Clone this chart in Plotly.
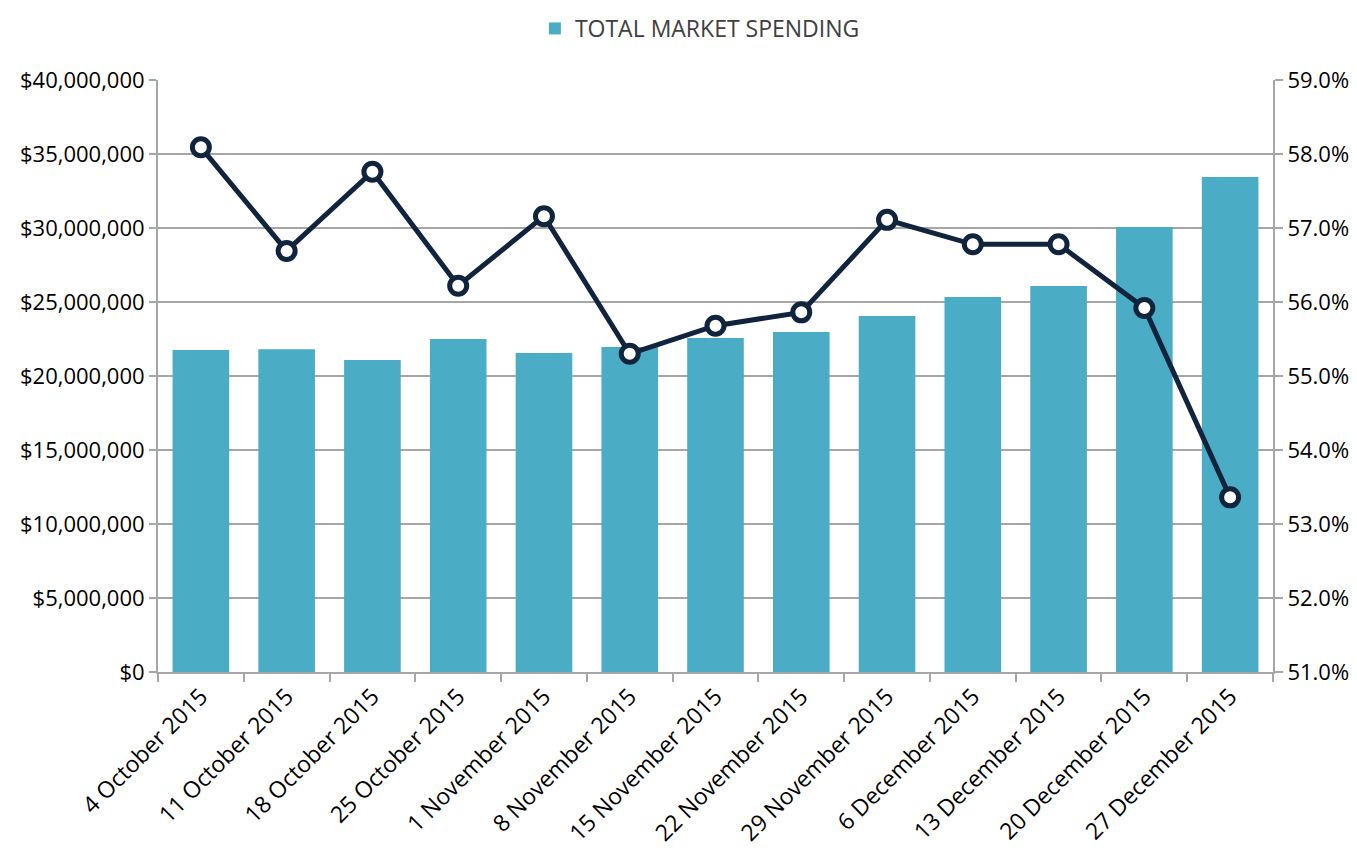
import plotly.graph_objects as go

weeks = ["4 October 2015", "11 October 2015", "18 October 2015", "25 October 2015",
         "1 November 2015", "8 November 2015", "15 November 2015", "22 November 2015",
         "29 November 2015", "6 December 2015", "13 December 2015", "20 December 2015",
         "27 December 2015"]
total_spending = [21760000, 21800000, 21080000, 22500000, 21550000, 21960000, 22570000,
                  22970000, 24050000, 25340000, 26080000, 30070000, 33450000]
share_pct = [0.5809, 0.5669, 0.5776, 0.5622, 0.5716, 0.5530, 0.5568, 0.5586,
             0.5711, 0.5678, 0.5678, 0.5592, 0.5336]

font_family = "Open Sans, Liberation Sans, sans-serif"
grid_col = "#A6A6A6"

fig = go.Figure()
fig.add_trace(go.Bar(
    x=weeks, y=total_spending, name="TOTAL MARKET SPENDING",
    marker=dict(color="#4BACC6", line=dict(width=0)), width=0.66,
))
fig.add_trace(go.Scatter(
    x=weeks, y=share_pct, yaxis="y2", mode="lines+markers", showlegend=False,
    line=dict(color="#10243E", width=5),
    marker=dict(size=17, color="white", line=dict(color="#10243E", width=5)),
))

fig.update_layout(
    width=1357, height=854,
    margin=dict(l=150, r=92, t=72, b=190),
    plot_bgcolor="white", paper_bgcolor="white",
    font=dict(family=font_family, size=22, color="#000000"),
    showlegend=True,
    legend=dict(orientation="h", x=0.486, xanchor="center", y=0.976, yanchor="middle",
                yref="container", font=dict(size=23, color="#404040")),
    xaxis=dict(
        type="category", tickangle=-45, tickson="boundaries", automargin=False,
        range=[-0.5, len(weeks) - 0.5],
        ticks="outside", ticklen=8, tickcolor=grid_col, tickwidth=2,
        showline=True, linecolor=grid_col, linewidth=2, showgrid=False,
        tickfont=dict(size=23),
    ),
    yaxis=dict(
        range=[0, 40000000], dtick=5000000, tickformat="$,.0f", automargin=False,
        showgrid=True, gridcolor=grid_col, gridwidth=2,
        showline=True, linecolor=grid_col, linewidth=2,
        ticks="outside", ticklen=7, tickcolor=grid_col, tickwidth=2,
        zeroline=False, tickfont=dict(size=22),
    ),
    yaxis2=dict(
        range=[0.51, 0.59], dtick=0.01, tickformat=".1%", overlaying="y", side="right",
        automargin=False,
        showgrid=False, showline=True, linecolor=grid_col, linewidth=2,
        ticks="outside", ticklen=8, tickcolor=grid_col, tickwidth=2,
        zeroline=False, tickfont=dict(size=22),
    ),
)

fig.write_html("out.html")
